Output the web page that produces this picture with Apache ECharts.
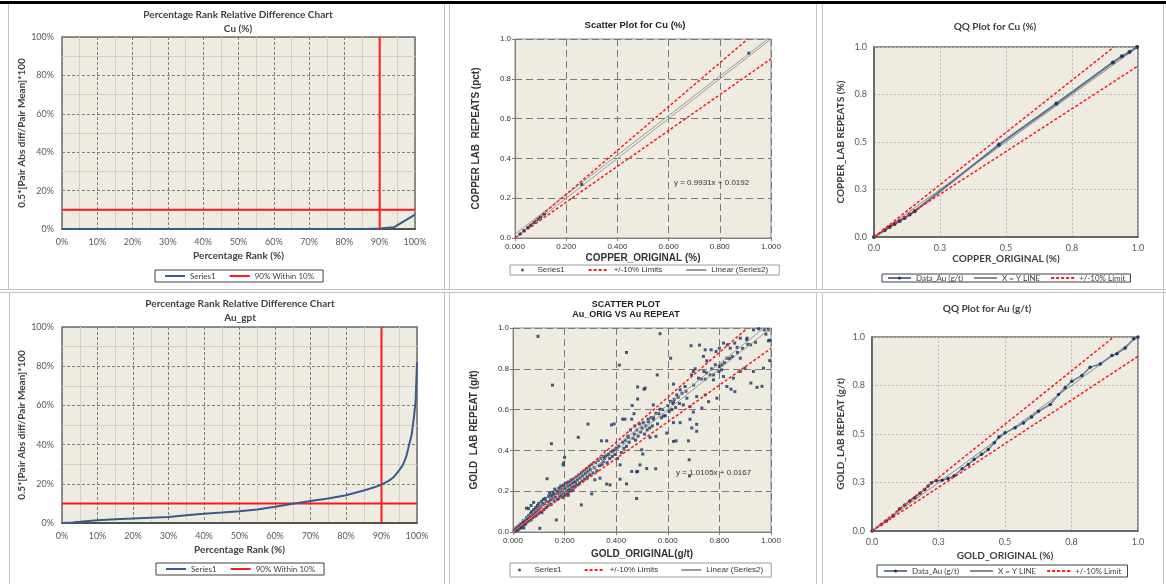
<!DOCTYPE html>
<html>
<head>
<meta charset="utf-8">
<script src="https://cdn.jsdelivr.net/npm/echarts@6/dist/echarts.min.js"></script>
<style>
  html, body { margin: 0; padding: 0; background: #fff; }
  #main { width: 1166px; height: 584px; }
</style>
</head>
<body>
<div id="main"></div>
<script>
// ---- data ----
const cuRankCurve = [[0, 0], [50, 0], [86, 0], [90, 0.3], [94, 0.9], [100, 7.5]];
const auRankCurve = [
  [0, 0], [3, 0.3], [5, 0.6], [10, 1.4], [15, 1.9], [20, 2.3], [25, 2.7], [30, 3.1],
  [35, 3.9], [40, 4.7], [45, 5.3], [50, 6.0], [55, 6.9], [60, 8.3], [65, 9.8],
  [70, 11.2], [75, 12.5], [80, 14.2], [85, 16.6], [88, 18.2], [90, 19.6], [92, 21.5],
  [93.5, 23.5], [95, 27], [96, 29.5], [97, 34], [97.8, 40], [98.5, 45], [99.2, 55],
  [99.6, 62], [100, 82]
];
const rankLimitH = [[0, 10], [100, 10]];
const rankLimitV = [[90, 0], [90, 100]];

const cuScatterPts = [
  [0.02, 0.02], [0.035, 0.037], [0.05, 0.052], [0.06, 0.062], [0.075, 0.078],
  [0.09, 0.094], [0.1, 0.105], [0.115, 0.12], [0.261, 0.269], [0.913, 0.929]
];
const auScatterPts = [
  [0.005, 0.01], [0.01, 0.005], [0.012, 0.02], [0.015, 0.012], [0.02, 0.025], [0.02, 0.01],
  [0.025, 0.03], [0.028, 0.018], [0.03, 0.04], [0.032, 0.022], [0.035, 0.03], [0.038, 0.045],
  [0.04, 0.035], [0.04, 0.055], [0.042, 0.02], [0.045, 0.05], [0.048, 0.038], [0.05, 0.06],
  [0.05, 0.045], [0.052, 0.117], [0.052, 0.07], [0.055, 0.05], [0.058, 0.065], [0.06, 0.08],
  [0.06, 0.115], [0.062, 0.055], [0.065, 0.075], [0.068, 0.09], [0.07, 0.06], [0.07, 0.13],
  [0.072, 0.1], [0.075, 0.07], [0.078, 0.085], [0.08, 0.11], [0.08, 0.145], [0.082, 0.075],
  [0.085, 0.095], [0.088, 0.12], [0.09, 0.08], [0.092, 0.105], [0.095, 0.13], [0.098, 0.09],
  [0.1, 0.115], [0.1, 0.14], [0.104, 0.018], [0.097, 0.959],
  [0.105, 0.1], [0.108, 0.125], [0.11, 0.15], [0.112, 0.095], [0.115, 0.135], [0.118, 0.16],
  [0.12, 0.11], [0.122, 0.14], [0.125, 0.165], [0.128, 0.12], [0.13, 0.15], [0.132, 0.261],
  [0.135, 0.13], [0.138, 0.175], [0.14, 0.145], [0.142, 0.19], [0.145, 0.16], [0.148, 0.135],
  [0.15, 0.18], [0.149, 0.433], [0.153, 0.72],
  [0.152, 0.17], [0.155, 0.195], [0.158, 0.155], [0.16, 0.185], [0.162, 0.21], [0.165, 0.17],
  [0.168, 0.059], [0.17, 0.2], [0.172, 0.16], [0.175, 0.19], [0.178, 0.215], [0.18, 0.175],
  [0.182, 0.2], [0.185, 0.225], [0.188, 0.185], [0.19, 0.21], [0.192, 0.17], [0.195, 0.23],
  [0.198, 0.195], [0.2, 0.215], [0.194, 0.329], [0.2, 0.366], [0.196, 0.338],
  [0.202, 0.18], [0.205, 0.24], [0.208, 0.205], [0.21, 0.225], [0.212, 0.19], [0.214, 0.18],
  [0.215, 0.245], [0.218, 0.21], [0.22, 0.23], [0.222, 0.2], [0.225, 0.255], [0.228, 0.22],
  [0.23, 0.24], [0.232, 0.205], [0.235, 0.26], [0.238, 0.225], [0.24, 0.245], [0.242, 0.243],
  [0.245, 0.27], [0.248, 0.23], [0.253, 0.464],
  [0.25, 0.255], [0.255, 0.28], [0.258, 0.24], [0.26, 0.265], [0.265, 0.133], [0.265, 0.29],
  [0.268, 0.25], [0.27, 0.275], [0.275, 0.3], [0.278, 0.26], [0.28, 0.285], [0.285, 0.31],
  [0.288, 0.27], [0.29, 0.295], [0.291, 0.529], [0.295, 0.32], [0.298, 0.28], [0.3, 0.305],
  [0.305, 0.187], [0.305, 0.33], [0.31, 0.29], [0.315, 0.315], [0.317, 0.256], [0.32, 0.34],
  [0.325, 0.3], [0.33, 0.35], [0.335, 0.325], [0.337, 0.264], [0.34, 0.36], [0.343, 0.447],
  [0.345, 0.33], [0.35, 0.37], [0.35, 0.345],
  [0.355, 0.36], [0.36, 0.375], [0.363, 0.447], [0.363, 0.235], [0.365, 0.34], [0.37, 0.38],
  [0.375, 0.36], [0.376, 0.231], [0.38, 0.395], [0.382, 0.525], [0.385, 0.37], [0.39, 0.4],
  [0.392, 0.53], [0.395, 0.38], [0.4, 0.41], [0.405, 0.36], [0.41, 0.42], [0.412, 0.818],
  [0.415, 0.259], [0.415, 0.329], [0.42, 0.39], [0.425, 0.553], [0.425, 0.44], [0.43, 0.41],
  [0.434, 0.553], [0.435, 0.45], [0.44, 0.88], [0.44, 0.236], [0.44, 0.42], [0.445, 0.47],
  [0.447, 0.464], [0.45, 0.44],
  [0.455, 0.5], [0.46, 0.553], [0.46, 0.297], [0.462, 0.62], [0.465, 0.46], [0.469, 0.58],
  [0.47, 0.48], [0.472, 0.52], [0.475, 0.45], [0.479, 0.295], [0.479, 0.164], [0.48, 0.5],
  [0.483, 0.711], [0.483, 0.652], [0.483, 0.297], [0.485, 0.47], [0.49, 0.53], [0.492, 0.329],
  [0.495, 0.49], [0.499, 0.403], [0.5, 0.51], [0.503, 0.382], [0.505, 0.536], [0.508, 0.7],
  [0.51, 0.48], [0.512, 0.705], [0.515, 0.52], [0.518, 0.311], [0.52, 0.5], [0.524, 0.553],
  [0.525, 0.54], [0.53, 0.51], [0.531, 0.464], [0.535, 0.56], [0.54, 0.52], [0.544, 0.561],
  [0.544, 0.623], [0.545, 0.55], [0.553, 0.31], [0.554, 0.469], [0.554, 0.582],
  [0.559, 0.77], [0.56, 0.53], [0.565, 0.58], [0.57, 0.972], [0.57, 0.602], [0.575, 0.56],
  [0.58, 0.6], [0.583, 0.569], [0.59, 0.57], [0.596, 0.485], [0.6, 0.62], [0.605, 0.59],
  [0.611, 0.852], [0.61, 0.64], [0.615, 0.6], [0.62, 0.63], [0.622, 0.725], [0.622, 0.639],
  [0.622, 0.536], [0.622, 0.444], [0.625, 0.65], [0.63, 0.61], [0.632, 0.447], [0.635, 0.672],
  [0.64, 0.66], [0.645, 0.63], [0.648, 0.697], [0.648, 0.536],
  [0.655, 0.68], [0.66, 0.623], [0.667, 0.713], [0.67, 0.69], [0.674, 0.656], [0.68, 0.447],
  [0.683, 0.354], [0.684, 0.275], [0.686, 0.615], [0.686, 0.553], [0.69, 0.913], [0.692, 0.77],
  [0.693, 0.51], [0.699, 0.787], [0.699, 0.588], [0.7, 0.72], [0.706, 0.8], [0.712, 0.664],
  [0.712, 0.528], [0.712, 0.494], [0.719, 0.754], [0.723, 0.916], [0.73, 0.75], [0.732, 0.608],
  [0.738, 0.861], [0.74, 0.787], [0.745, 0.893], [0.745, 0.749], [0.745, 0.672], [0.75, 0.78],
  [0.751, 0.839], [0.758, 0.639], [0.764, 0.77], [0.768, 0.893], [0.77, 0.8], [0.777, 0.77],
  [0.777, 0.746], [0.784, 0.82], [0.787, 0.885], [0.79, 0.656], [0.798, 0.787], [0.8, 0.901],
  [0.8, 0.811], [0.808, 0.795], [0.81, 0.82], [0.816, 0.926], [0.816, 0.762], [0.82, 0.83],
  [0.829, 0.852], [0.829, 0.713], [0.831, 0.918], [0.84, 0.85], [0.842, 0.901], [0.845, 0.7],
  [0.85, 0.86], [0.854, 0.754], [0.859, 0.926], [0.86, 0.688], [0.869, 0.905], [0.87, 0.88],
  [0.881, 0.95], [0.881, 0.852], [0.881, 0.787], [0.89, 0.9], [0.899, 0.803], [0.906, 0.942],
  [0.907, 0.95], [0.91, 0.92], [0.921, 0.918], [0.922, 0.73], [0.932, 0.991], [0.932, 0.787],
  [0.94, 0.93], [0.946, 0.709], [0.952, 0.996], [0.965, 0.714], [0.971, 0.803], [0.974, 0.991],
  [0.98, 0.97], [0.99, 0.991], [0.99, 0.937], [0.995, 0.84], [0.995, 0.94]
];

const upperLimit10 = [[0, 0], [0.909, 1.0]];
const lowerLimit10 = [[0, 0], [1.0, 0.9]];
const xyLine = [[0, 0], [1.0, 1.0]];
const cuTrend = [[0, 0.0192], [0.988, 1.0]];
const auTrend = [[0, 0.0167], [0.973, 1.0]];

const cuQQPts = [
  [0, 0], [0.04, 0.035], [0.059, 0.053], [0.078, 0.068], [0.097, 0.084], [0.116, 0.1],
  [0.135, 0.118], [0.154, 0.135], [0.473, 0.486], [0.691, 0.702], [0.905, 0.919],
  [0.939, 0.951], [0.968, 0.974], [0.997, 1.0]
];
const auQQPts = [
  [0, 0], [0.035, 0.034], [0.054, 0.051], [0.079, 0.077], [0.104, 0.115], [0.123, 0.134],
  [0.142, 0.154], [0.161, 0.172], [0.18, 0.194], [0.198, 0.214], [0.211, 0.232], [0.224, 0.249],
  [0.242, 0.26], [0.264, 0.262], [0.286, 0.27], [0.309, 0.285], [0.339, 0.321], [0.362, 0.343],
  [0.384, 0.369], [0.412, 0.395], [0.437, 0.42], [0.46, 0.455], [0.477, 0.485], [0.5, 0.506],
  [0.538, 0.532], [0.569, 0.557], [0.6, 0.588], [0.626, 0.617], [0.67, 0.652], [0.701, 0.703],
  [0.726, 0.738], [0.751, 0.772], [0.789, 0.801], [0.82, 0.844], [0.858, 0.861], [0.902, 0.904],
  [0.921, 0.914], [0.952, 0.943], [0.984, 0.991], [1.0, 1.0]
];

// tick labels
const scatterXTicks = ['0.000', '0.200', '0.400', '0.600', '0.800', '1.000'];
const scatterYTicks = ['0.0', '0.2', '0.4', '0.6', '0.8', '1.0'];
const qqTicks = ['0.0', '0.3', '0.5', '0.8', '1.0'];

const legendText = {
  cuRank: 'Series1', cuRankLim: '90% Within 10%',
  auRank: 'Series1', auRankLim: '90% Within 10%',
  cuS1: 'Series1', cuLim: '+/-10% Limits', cuLin: 'Linear (Series2)',
  auS1: 'Series1', auLim: '+/-10% Limits', auLin: 'Linear (Series2)',
  cuQQ: 'Data_Au (g/t)', cuXY: 'X = Y LINE', cuQQLim: '+/-10% Limit',
  auQQ: 'Data_Au (g/t)', auXY: 'X = Y LINE', auQQLim: '+/-10% Limit'
};

// ---- styling helpers ----
const CAL = 'Lato, "Liberation Sans", sans-serif';
const ARI = '"Liberation Sans", Arial, sans-serif';
const PLOT_BG = '#EEECE1';

const grids = [
  { left: 62, top: 37, width: 353, height: 192 },
  { left: 515, top: 39, width: 256, height: 199 },
  { left: 874, top: 47, width: 264, height: 190 },
  { left: 62, top: 327, width: 355, height: 196 },
  { left: 513, top: 328, width: 258, height: 204 },
  { left: 872, top: 337, width: 266, height: 194 }
].map((g, i) => Object.assign(g, {
  show: true,
  backgroundColor: PLOT_BG,
  borderColor: i === 1 || i === 4 ? '#8c8c8c' : '#6e6e6e',
  borderWidth: i === 1 || i === 4 ? 1 : 1.5,
  containLabel: false,
  outerBoundsMode: 'none'
}));

function nameStyle(font) {
  return { fontFamily: font, fontWeight: 'bold', fontSize: 10, color: font === ARI ? '#333' : '#404040' };
}

function rankX(gi, gap) {
  return {
    type: 'value', gridIndex: gi, min: 0, max: 100, interval: 10,
    name: 'Percentage Rank (%)', nameLocation: 'middle', nameGap: gap,
    nameTextStyle: nameStyle(CAL),
    axisLine: { show: true, onZero: false, lineStyle: { color: '#404040', width: 1.5 } },
    axisTick: { show: false },
    axisLabel: { formatter: v => v + '%', fontFamily: CAL, fontSize: 9, color: '#595959', margin: 9, showMinLabel: true, showMaxLabel: true, hideOverlap: false },
    splitLine: { show: true, lineStyle: { color: '#7f7f7f', type: [3, 2], width: 1 } },
    minorTick: { show: false, splitNumber: 2 },
    minorSplitLine: { show: true, lineStyle: { color: '#d2d0c6', width: 1 } }
  };
}
function rankY(gi) {
  return {
    type: 'value', gridIndex: gi, min: 0, max: 100, interval: 20,
    name: '0.5*[Pair Abs diff/Pair Mean]*100', nameLocation: 'middle', nameGap: 35,
    nameTextStyle: nameStyle(CAL),
    axisLine: { show: false },
    axisTick: { show: false },
    axisLabel: { formatter: v => v + '%', fontFamily: CAL, fontSize: 9, color: '#595959', margin: 8, showMinLabel: true, showMaxLabel: true, hideOverlap: false },
    splitLine: { show: true, lineStyle: { color: '#7f7f7f', type: [3, 2], width: 1 } },
    minorTick: { show: false, splitNumber: 2 },
    minorSplitLine: { show: true, lineStyle: { color: '#d2d0c6', width: 1 } }
  };
}
function scatterAxis(gi, isX, name, gap) {
  return {
    type: 'value', gridIndex: gi, min: 0, max: 1, interval: 0.2,
    name: name, nameLocation: 'middle', nameGap: gap,
    nameTextStyle: nameStyle(ARI),
    axisLine: { show: true, onZero: false, lineStyle: { color: '#808080', width: 1 } },
    axisTick: { show: true, length: 3, lineStyle: { color: '#808080' } },
    axisLabel: {
      formatter: v => (isX ? scatterXTicks : scatterYTicks)[Math.round(v / 0.2)],
      fontFamily: ARI, fontSize: 8, color: '#333', margin: isX ? 5 : 4,
      showMinLabel: true, showMaxLabel: true, hideOverlap: false
    },
    splitLine: { show: true, lineStyle: { color: '#7a7a7a', type: [7, 4], width: 1 } }
  };
}
function qqAxis(gi, isX, name, gap) {
  return {
    type: 'value', gridIndex: gi, min: 0, max: 1, interval: 0.25,
    name: name, nameLocation: 'middle', nameGap: gap,
    nameTextStyle: nameStyle(CAL),
    axisLine: { show: true, onZero: false, lineStyle: { color: '#595959', width: 1.5 } },
    axisTick: { show: false },
    axisLabel: {
      formatter: v => qqTicks[Math.round(v / 0.25)],
      fontFamily: CAL, fontSize: 9, color: '#595959', margin: 7,
      showMinLabel: true, showMaxLabel: true, hideOverlap: false
    },
    splitLine: { show: true, lineStyle: { color: '#b8b8b0', type: [2, 2], width: 1 } }
  };
}

function lineSeries(name, gi, data, color, width, dash, z) {
  return {
    name: name, type: 'line', xAxisIndex: gi, yAxisIndex: gi, data: data,
    symbol: 'none', silent: true, animation: false, z: z || 2,
    itemStyle: { color: color },
    lineStyle: { color: color, width: width, type: dash || 'solid' }
  };
}

const RED = '#FF1A1A';
const BLUE = '#3A5A8C';
const NAVY = '#1F3864';
const GREY = '#9a9a9a';

const series = [
  // panel 1
  lineSeries('cuRank', 0, cuRankCurve, BLUE, 2),
  lineSeries('cuRankLim', 0, rankLimitH, RED, 2, null, 3),
  lineSeries('cuRankLim', 0, rankLimitV, RED, 2, null, 3),
  // panel 2
  { name: 'cuS1', type: 'scatter', xAxisIndex: 1, yAxisIndex: 1, data: cuScatterPts, symbol: 'rect', symbolSize: 3, itemStyle: { color: NAVY }, animation: false, z: 4 },
  lineSeries('cuLim', 1, upperLimit10, RED, 1.5, [3, 2], 3),
  lineSeries('cuLim', 1, lowerLimit10, RED, 1.5, [3, 2], 3),
  lineSeries('cuLin', 1, cuTrend, GREY, 1),
  lineSeries('cuLin', 1, xyLine, GREY, 1),
  // panel 3
  Object.assign(lineSeries('cuQQ', 2, cuQQPts, '#5E7391', 2, null, 3), { symbol: 'circle', symbolSize: 4, itemStyle: { color: NAVY } }),
  lineSeries('cuXY', 2, xyLine, '#8a8a8a', 1),
  lineSeries('cuQQLim', 2, upperLimit10, RED, 1.5, [3, 2], 4),
  lineSeries('cuQQLim', 2, lowerLimit10, RED, 1.5, [3, 2], 4),
  // panel 4
  lineSeries('auRank', 3, auRankCurve, BLUE, 2, null, 3),
  lineSeries('auRankLim', 3, rankLimitH, RED, 2),
  lineSeries('auRankLim', 3, rankLimitV, RED, 2),
  // panel 5
  { name: 'auS1', type: 'scatter', xAxisIndex: 4, yAxisIndex: 4, data: auScatterPts, symbol: 'rect', symbolSize: 3, itemStyle: { color: '#1B3361' }, animation: false, z: 2 },
  lineSeries('auLim', 4, upperLimit10, RED, 1.5, [3, 2], 3),
  lineSeries('auLim', 4, lowerLimit10, RED, 1.5, [3, 2], 3),
  lineSeries('auLin', 4, auTrend, GREY, 1, null, 3),
  lineSeries('auLin', 4, xyLine, GREY, 1, null, 3),
  // panel 6
  Object.assign(lineSeries('auQQ', 5, auQQPts, '#6A7E9C', 1.5, null, 3), { symbol: 'circle', symbolSize: 3.5, itemStyle: { color: NAVY } }),
  lineSeries('auXY', 5, xyLine, '#8a8a8a', 1),
  lineSeries('auQQLim', 5, upperLimit10, RED, 1.5, [3, 2], 4),
  lineSeries('auQQLim', 5, lowerLimit10, RED, 1.5, [3, 2], 4)
];

// legend entries: plain line items hide the symbol that ECharts adds to line icons
const lineOnly = n => ({ name: n, itemStyle: { opacity: 0 } });
const dotItem = n => ({ name: n, icon: 'circle' });

function legend(left, top, items, font, opts) {
  return Object.assign({
    left: left, top: top, data: items, orient: 'horizontal',
    formatter: n => legendText[n],
    selectedMode: false,
    itemWidth: 20, itemHeight: 8, itemGap: 16,
    padding: [2, 10],
    borderColor: '#404040', borderWidth: 1, borderRadius: 0,
    backgroundColor: '#fff',
    textStyle: { fontFamily: font, fontSize: 8, color: '#404040' }
  }, opts || {});
}

const titleBase = (font, size, lh) => ({
  fontFamily: font, fontSize: size, fontWeight: 'bold', color: font === ARI ? '#222' : '#404040', lineHeight: lh
});

const sepColor = '#c4c4c4';
const sepLines = [
  [0, 2.5, 1166, 2.5, '#000', 3],
  [444.5, 4, 444.5, 290, sepColor, 1], [449.5, 4, 449.5, 290, sepColor, 1],
  [816.5, 4, 816.5, 290, sepColor, 1], [822.5, 4, 822.5, 290, sepColor, 1],
  [444.5, 293, 444.5, 584, sepColor, 1], [449.5, 293, 449.5, 584, sepColor, 1],
  [816.5, 293, 816.5, 584, sepColor, 1], [822.5, 293, 822.5, 584, sepColor, 1],
  [8.5, 4, 8.5, 290, sepColor, 1], [9.5, 293, 9.5, 584, sepColor, 1],
  [0, 289.5, 1166, 289.5, sepColor, 1], [0, 292.5, 1166, 292.5, sepColor, 1],
  [1163.5, 4, 1163.5, 584, sepColor, 1]
];

const option = {
  backgroundColor: '#ffffff',
  animation: false,
  title: [
    { text: 'Percentage Rank Relative Difference Chart\nCu (%)', left: 238, top: 8, textAlign: 'center', padding: 0, textStyle: titleBase(CAL, 10, 14) },
    { text: 'Scatter Plot for Cu (%)', left: 635, top: 19, textAlign: 'center', padding: 0, textStyle: titleBase(ARI, 9.5, 12) },
    { text: 'QQ Plot for Cu (%)', left: 995, top: 20, textAlign: 'center', padding: 0, textStyle: titleBase(CAL, 10, 14) },
    { text: 'Percentage Rank Relative Difference Chart\nAu_gpt', left: 240, top: 297, textAlign: 'center', padding: 0, textStyle: titleBase(CAL, 10, 14) },
    { text: 'SCATTER PLOT\nAu_ORIG VS Au REPEAT', left: 626, top: 300, textAlign: 'center', padding: 0, textStyle: titleBase(ARI, 9, 10) },
    { text: 'QQ Plot for Au (g/t)', left: 987, top: 302, textAlign: 'center', padding: 0, textStyle: titleBase(CAL, 10, 14) }
  ],
  grid: grids,
  xAxis: [
    rankX(0, 22),
    scatterAxis(1, true, 'COPPER_ORIGINAL (%)', 15),
    qqAxis(2, true, 'COPPER_ORIGINAL (%)', 16),
    rankX(3, 22),
    scatterAxis(4, true, 'GOLD_ORIGINAL(g/t)', 17),
    qqAxis(5, true, 'GOLD_ORIGINAL (%)', 20)
  ],
  yAxis: [
    rankY(0),
    scatterAxis(1, false, 'COPPER LAB  REPEATS (pct)', 34),
    qqAxis(2, false, 'COPPER_LAB REPEATS (%)', 28),
    rankY(3),
    scatterAxis(4, false, 'GOLD  LAB REPEAT (g/t)', 34),
    qqAxis(5, false, 'GOLD_LAB REPEAT (g/t)', 26)
  ],
  legend: [
    legend(155, 270, [lineOnly('cuRank'), lineOnly('cuRankLim')], CAL, { padding: [2, 9], itemGap: 13 }),
    legend(510, 265, [dotItem('cuS1'), lineOnly('cuLim'), lineOnly('cuLin')], ARI, { itemHeight: 3, itemWidth: 20, itemGap: 23, padding: [1, 11], borderColor: '#9a9a9a', textStyle: { fontFamily: ARI, fontSize: 8, color: '#333' } }),
    legend(882, 274, [{ name: 'cuQQ' }, lineOnly('cuXY'), lineOnly('cuQQLim')], CAL, { itemHeight: 4, itemWidth: 23, itemGap: 10, padding: [0, 5] }),
    legend(156, 563, [lineOnly('auRank'), lineOnly('auRankLim')], CAL, { padding: [2, 9], itemGap: 13 }),
    legend(510, 563, [dotItem('auS1'), lineOnly('auLim'), lineOnly('auLin')], ARI, { itemHeight: 3, itemWidth: 20, itemGap: 22, padding: [3, 8], borderColor: '#9a9a9a', textStyle: { fontFamily: ARI, fontSize: 8, color: '#333' } }),
    legend(877, 565, [{ name: 'auQQ' }, lineOnly('auXY'), lineOnly('auQQLim')], CAL, { itemHeight: 4, itemWidth: 23, itemGap: 10, padding: [2, 6] })
  ],
  graphic: [
    { type: 'text', left: 674, top: 179, silent: true, style: { text: 'y = 0.9931x + 0.0192', fontFamily: ARI, fontSize: 8, fill: '#333' }, z: 10 },
    { type: 'text', left: 676, top: 469, silent: true, style: { text: 'y = 1.0105x + 0.0167', fontFamily: ARI, fontSize: 8, fill: '#333' }, z: 10 }
  ].concat(sepLines.map(l => ({
    type: 'line', silent: true, z: -1,
    shape: { x1: l[0], y1: l[1], x2: l[2], y2: l[3] },
    style: { stroke: l[4], lineWidth: l[5] }
  }))),
  series: series
};

const chart = echarts.init(document.getElementById('main'), null, { renderer: 'canvas' });
chart.setOption(option);
</script>
</body>
</html>
